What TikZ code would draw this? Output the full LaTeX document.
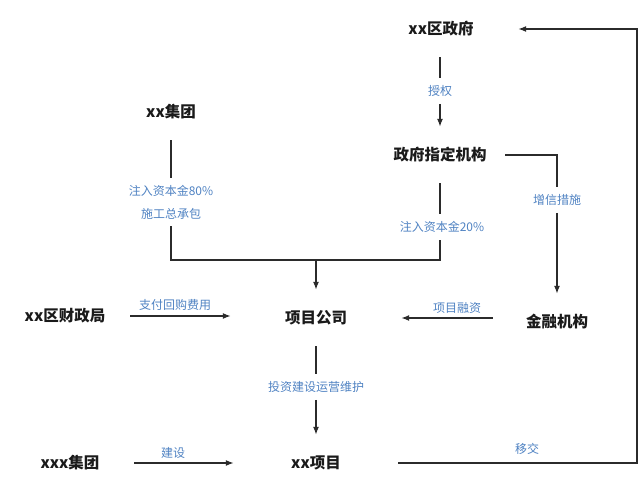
\documentclass[tikz,border=0pt]{standalone}
\usepackage{fontspec}
\setmainfont{Noto Sans CJK SC}
\usepackage{tikz}
\usetikzlibrary{arrows.meta}
\definecolor{ink}{HTML}{1A1A1A}
\definecolor{wire}{HTML}{2B2B2B}
\definecolor{note}{HTML}{4F82C2}
\tikzset{
  ent/.style={text=ink, font=\fontsize{15.5}{18}\selectfont\bfseries, minimum height=56pt, inner sep=0pt},
  lab/.style={text=note, font=\fontsize{12}{14}\selectfont, inner sep=7pt},
  link/.style={draw=wire, line width=1.4pt},
  flow/.style={link, -{Latex[length=8pt,width=6pt]}}
}

\begin{document}
\begin{tikzpicture}[x=1pt,y=-1pt]
  \useasboundingbox (0,0) rectangle (640,493);

  \node[ent, minimum width=154pt] (gov) at (441,29) {xx区政府};
  \node[ent, minimum width=130pt] (agency) at (440,155) {政府指定机构};
  \node[ent, minimum width=130pt] (group) at (171,112) {xx集团};
  \node[ent, minimum width=130pt] (fiscal) at (65,316) {xx区财政局};
  \node[ent, minimum width=170pt] (company) at (316,318) {项目公司};
  \node[ent, minimum width=128pt] (bank) at (557,322) {金融机构};
  \node[ent, minimum width=164pt] (project) at (316,463) {xx项目};
  \node[ent, minimum width=128pt] (builder) at (70,463) {xxx集团};

  \node[lab] (auth) at (440,91) {授权};
  \node[lab, align=center, font=\fontsize{12}{23}\selectfont] (cap80) at (171,202) {注入资本金80\%\\施工总承包};
  \node[lab] (cap20) at (442,227) {注入资本金20\%};
  \node[lab] (credit) at (557,200) {增信措施};
  \node[lab] (invest) at (316,387) {投资建设运营维护};
  \node[lab] (pay) at (175,305) {支付回购费用};
  \node[lab] (finance) at (457,308) {项目融资};
  \node[lab] (build) at (173,453) {建设};
  \node[lab] (transfer) at (527,449) {移交};

  \coordinate (merge) at (316,260);
  \coordinate (corner) at (637,463);

  \draw[link] (gov.south -| auth) -- (auth);
  \draw[flow] (auth) -- (agency);

  \draw[link] (group) -- (cap80);
  \draw[link] (agency) -- (agency |- cap20.north);
  \draw[link] (cap80.south) |- (merge) -| (agency |- cap20.south);
  \draw[flow] (merge) -- (company);

  \draw[link] (agency.east) -| (credit);
  \draw[flow] (credit) -- (bank);

  \draw[flow] (fiscal) -- (company.west |- fiscal);
  \draw[flow] (bank.west |- company.east) -- (company.east);

  \draw[link] (company) -- (invest);
  \draw[flow] (invest) -- (project);

  \draw[flow] (builder) -- (project);
  \draw[flow] (project.east) -- (corner) |- (gov.east);
\end{tikzpicture}
\end{document}
